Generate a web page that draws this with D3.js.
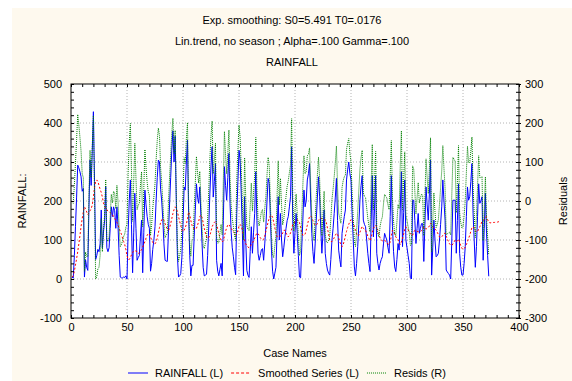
<!DOCTYPE html>
<html lang="en">
<meta charset="utf-8">
<title>Exp. smoothing RAINFALL</title>
<style>
  body { margin: 0; background: #fff; }
  text { font-family: "Liberation Sans", Arial, sans-serif; font-size: 11px; fill: #000; }
  .domain { display: none; }
</style>
<body>
<script src="https://cdn.jsdelivr.net/npm/d3@7"></script>
<script>
  // observed series (cases 1..373)
  var rainfall = [
    5,2,60,134,210,292,285,275,262,225,232,5,
    49,30,22,180,305,240,330,429,250,50,60,76,
    70,90,177,80,120,150,237,80,70,80,130,185,
    160,185,175,130,185,135,60,5,3,3,5,4,
    8,0,120,200,254,140,16,120,220,130,48,55,
    60,110,151,16,120,228,190,160,140,130,20,40,
    76,100,134,200,260,305,300,230,200,151,90,48,
    46,45,120,190,260,330,380,300,366,200,60,5,
    8,14,56,140,236,228,300,356,170,60,8,35,
    35,110,176,244,210,194,236,160,91,30,8,10,
    12,60,134,220,290,339,210,250,296,48,20,8,
    25,40,8,150,288,240,202,260,322,193,120,80,
    57,30,11,168,250,330,305,220,120,8,211,100,
    22,10,4,70,134,66,120,168,275,150,66,48,
    60,75,78,48,90,134,200,258,245,160,74,20,
    0,15,30,120,211,100,168,100,57,80,108,130,
    150,160,185,211,339,150,66,120,168,117,60,5,
    3,80,151,228,185,200,254,270,296,200,117,70,
    40,90,151,210,262,211,130,66,120,177,66,40,
    23,15,10,50,100,130,168,210,258,150,74,50,
    31,117,140,160,177,254,280,300,270,254,168,100,
    31,8,40,83,140,203,240,265,151,140,134,100,
    66,40,19,150,265,108,180,265,66,40,23,40,
    50,57,90,117,108,100,80,66,160,265,134,70,
    31,19,50,91,74,180,275,83,170,254,100,80,
    60,40,3,0,202,202,150,91,130,168,117,130,
    142,142,45,140,236,190,151,220,305,10,80,151,
    100,57,60,66,100,140,185,254,200,151,23,18,
    14,10,0,100,202,202,202,66,150,244,66,30,
    10,10,40,83,160,236,202,211,250,296,168,100,
    30,83,160,244,194,200,211,48,130,220,117,60,7
  ];

  // smoothed series (cases 1..383, last ten are the forecast)
  var smoothed = [
    5,8,20,36,52,70,90,112,135,155,172,185,
    180,172,165,170,175,180,190,210,235,250,254,250,
    240,230,222,210,195,186,182,178,174,172,170,168,
    165,160,155,150,145,138,130,122,115,105,96,88,
    75,60,50,50,55,62,68,72,72,72,70,66,
    66,70,76,82,88,96,105,112,117,115,108,100,
    94,90,90,95,105,118,132,145,152,155,150,142,
    134,128,125,130,142,155,168,178,185,182,172,160,
    148,137,125,122,125,132,140,155,172,165,150,138,
    132,128,127,130,138,148,160,164,158,145,130,118,
    108,104,106,112,122,134,140,145,148,140,128,115,
    106,100,95,98,110,122,132,138,140,135,130,125,
    122,118,112,115,124,135,140,136,125,108,100,90,
    86,82,80,84,88,92,98,105,112,118,116,112,
    106,102,100,102,110,122,134,146,156,162,164,158,
    145,130,118,108,108,110,110,112,118,125,125,118,
    112,108,112,118,128,140,143,146,150,152,150,145,
    132,118,112,112,115,125,138,150,160,162,158,150,
    142,138,138,142,150,155,156,155,152,152,152,145,
    130,115,100,96,96,100,106,112,117,115,105,95,
    88,83,88,98,110,122,132,140,148,152,150,145,
    135,125,115,110,112,120,128,135,130,128,125,118,
    110,104,98,105,120,130,134,138,134,125,115,105,
    100,98,98,100,96,92,90,88,95,110,125,122,
    115,108,104,100,94,88,95,105,115,128,134,130,
    126,120,117,112,112,120,125,124,122,121,122,122,
    124,128,134,130,128,130,132,136,143,140,134,130,
    128,125,120,114,108,106,108,112,116,118,110,102,
    96,90,87,86,90,95,100,96,98,102,95,85,
    79,76,78,82,88,96,104,112,122,132,134,130,
    124,120,122,128,134,140,148,150,152,158,160,152,146,
    144,144,145,145,145,146,146,146,147,147
  ];

  // residuals, right axis (cases 1..373)
  var resids = [
    0,-6,40,98,158,222,195,163,127,70,60,-180,
    -131,-142,-143,10,130,60,140,219,15,-200,-194,-174,
    -170,-140,-45,-130,-75,-36,55,-98,-104,-92,-40,17,
    -5,25,20,-20,40,-3,-70,-117,-112,-102,-91,-84,
    -67,-60,70,150,199,78,-52,48,148,58,-22,-11,
    -6,40,75,-66,32,132,85,48,23,15,-88,-60,
    -18,10,44,105,155,187,168,85,48,-4,-60,-94,
    -88,-83,-5,60,118,175,212,122,181,18,-112,-155,
    -140,-123,-69,18,111,96,160,201,-2,-105,-142,-103,
    -97,-18,49,114,72,46,76,-4,-67,-115,-122,-108,
    -96,-44,28,108,168,205,70,105,148,-92,-108,-107,
    -81,-60,-87,52,178,118,70,122,182,58,-10,-45,
    -65,-88,-101,53,126,195,165,84,-5,-100,111,10,
    -64,-72,-76,-14,46,-26,22,63,163,32,-50,-64,
    -46,-27,-22,-54,-20,12,66,112,89,-2,-90,-138,
    -145,-115,-88,12,103,-10,58,-12,-61,-45,-17,12,
    38,52,73,93,211,10,-77,-26,18,-35,-90,-140,
    -129,-38,39,116,70,75,116,120,136,38,-41,-80,
    -102,-48,13,68,112,56,-26,-89,-32,25,-86,-105,
    -107,-100,-90,-46,4,30,62,98,141,35,-31,-45,
    -57,34,52,62,67,132,148,160,122,102,18,-45,
    -104,-117,-75,-27,28,83,112,130,21,12,9,-18,
    -44,-64,-79,45,145,-22,46,127,-68,-85,-92,-65,
    -50,-41,-8,17,12,8,-10,-22,65,155,9,-52,
    -84,-89,-54,-9,-20,92,180,-22,55,126,-34,-50,
    -66,-80,-114,-112,90,82,25,-33,8,47,-5,8,
    18,14,-89,10,108,60,19,84,162,-130,-54,21,
    -28,-68,-60,-48,-8,34,77,142,84,33,-87,-84,
    -82,-80,-87,14,112,107,102,-30,52,142,-29,-55,
    -69,-66,-38,1,72,140,98,99,128,164,34,-30,
    -94,-37,38,116,60,60,63,-102,-22,62,-43,-92,-139
  ];

  var xTicks = [0, 50, 100, 150, 200, 250, 300, 350, 400];
  var yLeftTicks = [-100, 0, 100, 200, 300, 400, 500];
  var yRightTicks = [-300, -200, -100, 0, 100, 200, 300];

  var titles = [
    "Exp. smoothing: S0=5.491 T0=.0176",
    "Lin.trend, no season ; Alpha=.100 Gamma=.100",
    "RAINFALL"
  ];

  var legendItems = [
    { label: "RAINFALL (L)", color: "#0000ff", dash: null },
    { label: "Smoothed Series (L)", color: "#ff0000", dash: "3,2" },
    { label: "Resids (R)", color: "#008000", dash: "1,1" }
  ];

  var W = 572, H = 381;
  var pLeft = 71, pRight = 519, pTop = 84, pBottom = 318;

  // plain hyphen for negatives, like the original
  var plain = function(d) { return String(d); };

  var svg = d3.select("body").append("svg")
    .attr("width", W)
    .attr("height", H);

  // cream background
  svg.append("rect")
    .attr("x", 12).attr("y", 8)
    .attr("width", W - 12).attr("height", H - 8)
    .attr("fill", "#fef9ee");

  svg.append("rect")
    .attr("x", pLeft).attr("y", pTop)
    .attr("width", pRight - pLeft).attr("height", pBottom - pTop)
    .attr("fill", "#fff");

  var x = d3.scaleLinear().domain([0, 400]).range([pLeft, pRight]);
  var yL = d3.scaleLinear().domain([-100, 500]).range([pBottom, pTop]);
  var yR = d3.scaleLinear().domain([-300, 300]).range([pBottom, pTop]);

  // grid
  var grid = svg.append("g")
    .attr("stroke", "#b4b4b4")
    .attr("stroke-dasharray", "1,2");
  grid.selectAll(".gx")
    .data(xTicks.slice(1, -1))
    .enter().append("line")
    .attr("x1", function(d) { return x(d); })
    .attr("x2", function(d) { return x(d); })
    .attr("y1", pTop).attr("y2", pBottom);
  grid.selectAll(".gy")
    .data(yLeftTicks.slice(1, -1))
    .enter().append("line")
    .attr("x1", pLeft).attr("x2", pRight)
    .attr("y1", function(d) { return yL(d); })
    .attr("y2", function(d) { return yL(d); });

  // lines
  var plot = svg.append("g");

  var leftLine = d3.line()
    .x(function(d, i) { return x(i + 1); })
    .y(function(d) { return yL(d); });
  var rightLine = d3.line()
    .x(function(d, i) { return x(i + 1); })
    .y(function(d) { return yR(d); });

  plot.append("path")
    .datum(rainfall)
    .attr("fill", "none")
    .attr("stroke", "#0000ff")
    .attr("stroke-width", 1)
    .attr("d", leftLine);

  plot.append("path")
    .datum(smoothed)
    .attr("fill", "none")
    .attr("stroke", "#ff0000")
    .attr("stroke-width", 1)
    .attr("stroke-dasharray", "2,2")
    .attr("d", leftLine);

  plot.append("path")
    .datum(resids)
    .attr("fill", "none")
    .attr("stroke", "#008000")
    .attr("stroke-width", 1)
    .attr("stroke-dasharray", "1,1")
    .attr("d", rightLine);

  // minor tick marks around the frame
  svg.append("g")
    .attr("transform", "translate(" + pLeft + ",0)")
    .call(d3.axisRight(yL).tickValues(d3.range(-100, 501, 20)).tickSize(3).tickFormat(""));
  svg.append("g")
    .attr("transform", "translate(" + pRight + ",0)")
    .call(d3.axisLeft(yR).tickValues(d3.range(-300, 301, 20)).tickSize(3).tickFormat(""));
  svg.append("g")
    .attr("transform", "translate(" + pRight + ",0)")
    .call(d3.axisRight(yR).tickValues(d3.range(-300, 301, 20)).tickSize(2).tickFormat(""));
  svg.append("g")
    .attr("transform", "translate(0," + pBottom + ")")
    .call(d3.axisTop(x).tickValues(d3.range(0, 401, 10)).tickSize(3).tickFormat(""));
  svg.append("g")
    .attr("transform", "translate(0," + pTop + ")")
    .call(d3.axisBottom(x).tickValues(d3.range(0, 401, 10)).tickSize(3).tickFormat(""));

  // tick labels
  svg.append("g")
    .attr("transform", "translate(" + pLeft + ",0)")
    .call(d3.axisLeft(yL).tickValues(yLeftTicks).tickFormat(plain).tickSize(0).tickPadding(9));
  svg.append("g")
    .attr("transform", "translate(" + pRight + ",0)")
    .call(d3.axisRight(yR).tickValues(yRightTicks).tickFormat(plain).tickSize(0).tickPadding(6));
  svg.append("g")
    .attr("transform", "translate(0," + pBottom + ")")
    .call(d3.axisBottom(x).tickValues(xTicks).tickFormat(plain).tickSize(0).tickPadding(5));

  svg.selectAll(".tick text")
    .style("font-family", "'Liberation Sans', Arial, sans-serif")
    .style("font-size", "11px");

  // frame
  svg.append("rect")
    .attr("x", pLeft).attr("y", pTop)
    .attr("width", pRight - pLeft).attr("height", pBottom - pTop)
    .attr("fill", "none")
    .attr("stroke", "#000")
    .attr("stroke-width", 1);

  // titles
  svg.selectAll(".title")
    .data(titles)
    .enter().append("text")
    .attr("x", 292)
    .attr("y", function(d, i) { return 24 + i * 21; })
    .attr("text-anchor", "middle")
    .text(function(d) { return d; });

  // axis titles
  svg.append("text")
    .attr("x", (pLeft + pRight) / 2)
    .attr("y", 357)
    .attr("text-anchor", "middle")
    .text("Case Names");

  svg.append("text")
    .attr("transform", "translate(26," + ((pTop + pBottom) / 2) + ") rotate(-90)")
    .attr("text-anchor", "middle")
    .text("RAINFALL:");

  svg.append("text")
    .attr("transform", "translate(567," + ((pTop + pBottom) / 2) + ") rotate(-90)")
    .attr("text-anchor", "middle")
    .text("Residuals");

  // legend, laid out left to right
  var legend = svg.append("g").attr("transform", "translate(0,373)");
  var cx = 128;
  legendItems.forEach(function(d) {
    var g = legend.append("g").attr("transform", "translate(" + cx + ",0)");
    g.append("line")
      .attr("x1", 0).attr("x2", 20)
      .attr("stroke", d.color)
      .attr("stroke-dasharray", d.dash);
    var t = g.append("text")
      .attr("x", 27)
      .attr("y", 4)
      .text(d.label);
    cx += 27 + t.node().getComputedTextLength() + 8;
  });
</script>
</body>
